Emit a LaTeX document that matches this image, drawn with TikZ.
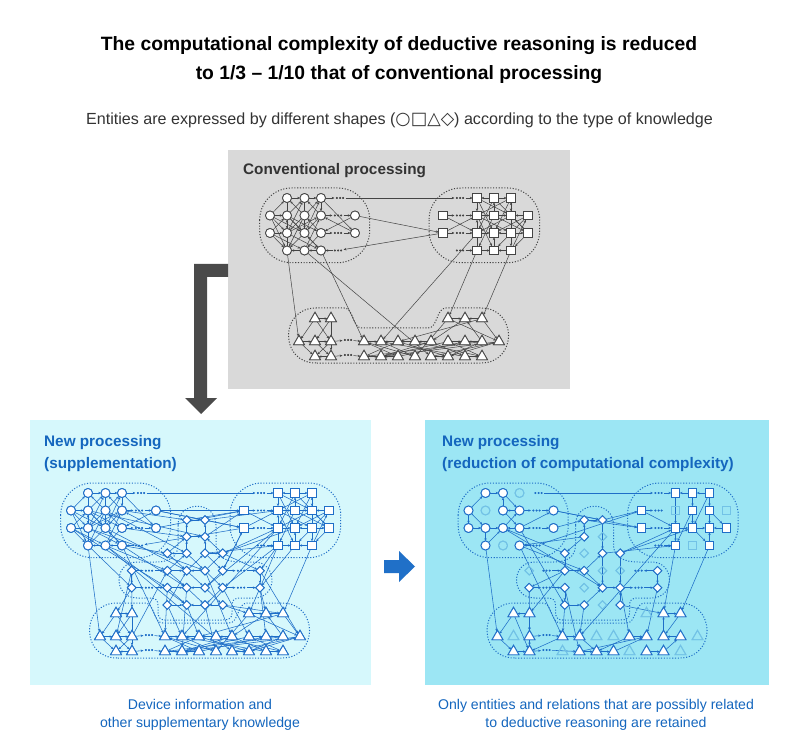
\documentclass[tikz,border=0pt]{standalone}
\usepackage{fontspec}
\setmainfont{Liberation Sans}
\newfontfamily\symfont{DejaVu Sans}
\usetikzlibrary{arrows.meta,shapes.geometric}
\definecolor{grayfill}{HTML}{D9D9D9}
\definecolor{darkarrow}{HTML}{4A4A4A}
\definecolor{lightcyan}{HTML}{D6F8FC}
\definecolor{midcyan}{HTML}{9CE6F4}
\definecolor{blueline}{HTML}{1E6EC8}
\definecolor{bluetext}{HTML}{1466BE}
\definecolor{bluearrow}{HTML}{2070C8}
\definecolor{fadec}{HTML}{72C2E6}
\definecolor{grayline}{HTML}{444444}
\definecolor{convtext}{HTML}{333333}
\colorlet{netc}{grayline}
\tikzset{
 nb/.style={inner sep=0pt, outer sep=0pt, draw=netc, fill=white, line width=0.9pt},
 cnode/.style={nb, circle, minimum size=9pt},
 snode/.style={nb, rectangle, minimum size=8.6pt},
 tnode/.style={nb, regular polygon, regular polygon sides=3, minimum size=12.6pt},
 dnode/.style={nb, diamond, minimum size=8.6pt},
 faded/.style={draw=fadec, fill=none},
 dotsn/.style={inner sep=0pt, outer sep=0.5pt, minimum width=10pt, minimum height=3pt,
   path picture={\foreach \dx in {-3.2,0,3.2}{\fill[netc] ([xshift=\dx pt]path picture bounding box.center) circle (1pt);}}},
 lnk/.style={draw=netc, line width=0.55pt, -{Stealth[length=2.8pt,width=2.4pt]}},
 grp/.style={draw=netc, line width=1pt, dash pattern=on 1.1pt off 1.7pt},
 fadeRc14/.style={faded}, fadeRc22/.style={faded}, fadeRc43/.style={faded},
 fadeRs22/.style={faded}, fadeRs25/.style={faded}, fadeRs43/.style={faded},
 fadeRd24/.style={faded}, fadeRd33/.style={faded}, fadeRd41/.style={faded}, fadeRd44/.style={faded},
 fadeRd45/.style={faded}, fadeRd53/.style={faded}, fadeRd64/.style={faded},
 fadeRtT9/.style={faded}, fadeRtM2/.style={faded}, fadeRtM6/.style={faded}, fadeRtM7/.style={faded},
 fadeRtM12/.style={faded}, fadeRtB4/.style={faded}, fadeRtB8/.style={faded}, fadeRtB11/.style={faded},
}
% ---------- nodes ----------
\newcommand\mainnodes[1]{%
 \foreach \n/\x/\y in {c12/287/198, c13/304.5/198, c14/321/198,
   c21/270/215.5, c22/287/215.5, c23/304.5/215.5, c24/321/215.5, c25/355/215.5,
   c31/270/233, c32/287/233, c33/304.5/233, c34/321/233, c35/355/233,
   c42/287/250.5, c43/304.5/250.5, c44/321/250.5}
   {\node[cnode, fade#1\n/.try] (#1\n) at (\x,\y) {};}
 \foreach \n/\x/\y in {s12/477/198, s13/494/198, s14/511/198,
   s21/443/215.5, s22/477/215.5, s23/494/215.5, s24/511/215.5, s25/528/215.5,
   s31/443/233, s32/477/233, s33/494/233, s34/511/233, s35/528/233,
   s42/477/250.5, s43/494/250.5, s44/511/250.5}
   {\node[snode, fade#1\n/.try] (#1\n) at (\x,\y) {};}
 \foreach \n/\x/\y in {tT2/315/318.6, tT3/331/318.6, tT9/448/318.6, tT10/465/318.6, tT11/482/318.6,
   tM1/299/341.6, tM2/315/341.6, tM3/331/341.6, tM4/364/341.6, tM5/381/341.6, tM6/398/341.6,
   tM7/415/341.6, tM8/431/341.6, tM9/448/341.6, tM10/465/341.6, tM11/482/341.6, tM12/499/341.6,
   tB2/315/356.6, tB3/331/356.6, tB4/364/356.6, tB5/381/356.6, tB6/398/356.6, tB7/415/356.6,
   tB8/431/356.6, tB9/448/356.6, tB10/465/356.6, tB11/482/356.6}
   {\node[tnode, fade#1\n/.try] (#1\n) at (\x,\y) {};}
 \foreach \n/\x/\y in {cd1/340/198, cd2/338/215.5, cd3/338/233, cd4/338/250.5,
   sd1/460/198, sd2/460/215.5, sd3/460/233, sd4/460/250.5, tdM/348/340, tdB/348/355}
   {\node[dotsn] (#1\n) at (\x,\y) {};}
}
\newcommand\dianodes[1]{%
 \foreach \n/\x/\y in {d13/385.7/225, d14/404/225, d23/385.7/241.7, d24/404/241.7,
   d32/366.3/258.3, d33/385.7/258.3, d34/404/258.3, d35/421.7/258.3,
   d41/330.7/275.7, d42/366.3/275.7, d43/385.7/275.7, d44/404/275.7, d45/421.7/275.7, d46/459/275.7,
   d51/330.7/292.7, d52/366.3/292.7, d53/385.7/292.7, d54/404/292.7, d55/421.7/292.7, d56/459/292.7,
   d62/366.3/310, d63/385.7/310, d64/404/310, d65/421.7/310}
   {\node[dnode, fade#1\n/.try] (#1\n) at (\x,\y) {};}
 \foreach \n/\x/\y in {dd4a/348/275.7, dd4b/440/275.7, dd5a/348/292.7, dd5b/440/292.7}
   {\node[dotsn] (#1\n) at (\x,\y) {};}
}
% ---------- outlines ----------
\newcommand\mainoutlines{%
 \draw[grp, rounded corners=32pt] (259.7,188) rectangle (369.7,262.7);
 \draw[grp, rounded corners=32pt] (429,188) rectangle (539.7,262.7);
 \draw[grp] (316,363) .. controls (279.3,363) and (279.3,308) .. (316,308) -- (344,308)
   .. controls (354,308) and (352,328) .. (362,328) -- (428,328)
   .. controls (438,328) and (436,308) .. (446,308) -- (481,308)
   .. controls (517.7,308) and (517.7,363) .. (481,363) -- cycle;
}
\newcommand\diaoutline{%
 \draw[grp] (377,230) .. controls (377,205) and (415,205) .. (415,230) -- (415,250)
   .. controls (415,262) and (425,267) .. (440,267) -- (453,267)
   .. controls (477,267) and (477,303) .. (453,303) -- (440,303)
   .. controls (432,303) and (431,306) .. (431,312) -- (431,318)
   .. controls (431,323) and (428,325) .. (422,325) -- (364,325)
   .. controls (359,325) and (357,322) .. (357,317) -- (357,311)
   .. controls (357,305) and (355,303) .. (348,303) -- (336,303)
   .. controls (312,303) and (312,267) .. (336,267) -- (355,267)
   .. controls (368,267) and (377,262) .. (377,250) -- cycle;
}
% ---------- edges ----------
\newcommand\convedges[1]{%
 \foreach \a/\b in {c12/c13, c13/c14, c14/cd1, c21/c12, c21/c22, c21/c33, c21/c42, c21/c32,
   c31/c22, c31/c32, c31/c43, c31/c42, c22/c13, c22/c34, c22/c44, c22/c33, c23/c14, c23/c32,
   c23/c42, c23/c12, c24/c33, c24/c13, c24/cd2, cd2/c25, c32/c24, c32/c44, c32/c13, c33/c42,
   c33/c14, c34/c23, c34/c43, c34/cd3, cd3/c35, c43/c42, c44/c43, cd4/c44, c12/c32, c13/c33,
   c14/c24, c42/c22, c43/c24, c25/c34, c35/c24, c14/c35, c44/c33,
   sd1/s12, s13/s12, s13/s14, s14/s24, s21/sd2, sd2/s22, s31/sd3, sd3/s32, sd4/s42, s42/s43,
   s44/s43, s22/s23, s23/s24, s25/s24, s32/s33, s34/s33, s34/s35, s12/s33, s12/s24, s13/s32,
   s13/s35, s14/s22, s14/s33, s22/s34, s22/s43, s23/s42, s23/s35, s24/s32, s24/s44, s25/s33,
   s25/s43, s35/s24, s44/s25, s21/s32, s31/s22, s12/s22, s23/s13, s34/s14, s43/s33, s42/s22, s35/s44,
   tT2/tT3, tT2/tM1, tT2/tM3, tT3/tM2, tT3/tB3, tM1/tB2, tM2/tB3, tM3/tB2, tM1/tM2, tB3/tB2,
   tM2/tM3, tM3/tdM, tB3/tdB, tdM/tM4, tdB/tB4, tM4/tM5, tM6/tM5, tM7/tM6, tM8/tM7, tM9/tM10,
   tM11/tM10, tB4/tB5, tB6/tB5, tB8/tB9, tB10/tB11, tB4/tM6, tM5/tB7, tB5/tM8, tM6/tB9,
   tB6/tM10, tM7/tB11, tB8/tM12, tT9/tT10, tT11/tT10, tT9/tM12, tT10/tM8, tT11/tM6, tM9/tB5,
   tM11/tB4, tT9/tB7, tM12/tB9, tB10/tM5, tB11/tM9, tM11/tT10, tT11/tM12, tM4/tB6, tB7/tM4,
   tM8/tB10, tB9/tM11, tM12/tB5,
   cd1/sd1, c25/s31, s31/cd4, c42/tM1, c44/tM4, c43/tB8, s32/tM5, s42/tT9, s44/tT11}
   {\draw[lnk] (#1\a) -- (#1\b);}
}
\newcommand\diaedges[1]{%
 \foreach \a/\b in {d13/d14, d23/d13, d24/d14, d23/d24, d32/d23, d33/d23, d34/d24, d35/d24,
   d33/d32, d34/d35, d41/dd4a, dd4a/d42, d51/dd5a, dd5a/d52, d45/dd4b, dd4b/d46, d55/dd5b,
   dd5b/d56, d42/d33, d43/d34, d44/d35, d42/d53, d43/d54, d44/d55, d45/d54, d52/d63, d53/d64,
   d54/d65, d55/d64, d62/d63, d64/d63, d65/d64, d42/d43, d44/d43, d52/d53, d54/d53, d32/d43,
   d34/d45, d35/d46, d41/d51, d46/d56, d33/d44, d62/d43,
   c24/d13, c25/d14, c34/d23, c44/d32, c43/d42, c33/d43, c42/d51, c32/d44, c23/d33, c44/d53,
   d13/s21, d14/s31, d24/s21, d35/s32, d34/s42, d45/s31, s42/d46, s43/d56, s33/d35, d41/tT3,
   d51/tT2, d52/tM4, d63/tM6, d64/tB7, d65/tT9, d56/tT10, d46/tM12, d55/tM9, tM3/d42, d62/tM5,
   d53/tB5, d44/tM8, s32/d54, c35/s21, c25/s21, c22/d24, c31/d52, s31/d45, s42/d55, d14/s22,
   c43/d63, d41/tM2, d56/tM10, d65/tT11}
   {\draw[lnk] (#1\a) -- (#1\b);}
}
\newcommand\redges[1]{%
 \foreach \a/\b in {c12/c13, c21/c12, c21/c31, c31/c32, c32/c33, c34/c33, c24/c23, c23/c13,
   c13/c24, c32/c42, c33/c24, c34/cd3, cd3/c35, c24/cd2, cd2/c25, cd4/c44, c34/c25, c21/c32,
   c42/c33, c23/c34,
   sd1/s12, s13/s12, s14/s13, s14/s24, s13/s23, s21/sd2, s31/sd3, sd3/s32, s32/s33, s33/s34,
   s35/s34, s24/s34, s23/s33, s32/s42, s44/s34, s12/s32, s14/s33, s23/s42, sd4/s42, s33/s44,
   s24/s35, s21/s32,
   d13/d14, d23/d13, d23/d32, d14/d34, d34/d54, d32/d42, d42/d43, d35/d55, d51/dd5a, dd5a/d52,
   d43/d54, d54/d55, d55/dd5b, dd5b/d56, d46/dd4b, d46/d56, d52/d62, d63/d54, d65/d55, d43/d34,
   d42/d51, d62/d63, dd4a/d42,
   cd1/sd1, c25/s31, s21/cd4, c42/tM1, c44/tM4, s32/tM5, s44/tT11, s42/tT10, c35/d13, d14/s21,
   d13/s31, d23/c44, d32/c33, d35/s32, d42/tT3, d51/tM3, d62/tM4, d63/tM5, d65/tT10, d56/tM9,
   d34/s42, c25/d14, c44/d43, c34/d62, c33/d54, d35/s33, d55/tM8, d52/tB5,
   tT2/tM1, tT3/tT2, tM1/tB2, tB2/tB3, tM3/tB3, tT3/tM3, tM4/tM5, tB5/tB6, tB6/tB7, tM8/tM9,
   tM10/tT10, tT10/tT11, tT11/tM10, tB9/tB10, tB10/tM11, tB5/tM9, tM8/tB6, tM5/tB6, tM4/tB3,
   tdB/tB5, tM11/tM10, tdM/tM4, tB3/tdB, tM3/tdM, tB7/tM9, tT2/tB3}
   {\draw[lnk] (#1\a) -- (#1\b);}
}
\begin{document}
\begin{tikzpicture}[x=1pt,y=-1pt]
\useasboundingbox (0,0) rectangle (798,751);
\fill[white] (0,0) rectangle (798,751);
% titles
\node[anchor=base, inner sep=0pt, font=\bfseries\fontsize{19.3}{23}\selectfont] (title1) at (399,51)
  {The computational complexity of deductive reasoning is reduced};
\node[anchor=base, inner sep=0pt, font=\bfseries\fontsize{19.3}{23}\selectfont] (title2) at (399,80)
  {to 1/3 – 1/10 that of conventional processing};
\node[anchor=base, inner sep=0pt, text=convtext, font=\fontsize{16.1}{19}\selectfont] (subtitle) at (399.5,125)
  {Entities are expressed by different shapes ({\symfont\fontsize{17.5}{19}\selectfont ○□△◇}) according to the type of knowledge};
% boxes
\fill[grayfill] (228,150) rectangle (570,389);
\fill[lightcyan] (30,420) rectangle (371,685);
\fill[midcyan] (425,420) rectangle (769,685);
% dark arrow
\fill[darkarrow] (228,264) -- (194,264) -- (194,398) -- (185,398) -- (201,414) -- (217,398)
  -- (207,398) -- (207,277) -- (228,277) -- cycle;
% blue arrow
\fill[bluearrow] (384,560) -- (399,560) -- (399,551) -- (415,566.5) -- (399,582) -- (399,573)
  -- (384,573) -- cycle;
% box titles
\node[anchor=base west, inner sep=0pt, text=convtext, font=\bfseries\fontsize{15.3}{18}\selectfont] (ctitle) at (243,175) {Conventional processing};
\node[anchor=base west, inner sep=0pt, text=bluetext, font=\bfseries\fontsize{15.3}{18}\selectfont] (ltitle1) at (44,446.5) {New processing};
\node[anchor=base west, inner sep=0pt, text=bluetext, font=\bfseries\fontsize{15.3}{18}\selectfont] (ltitle2) at (44,468) {(supplementation)};
\node[anchor=base west, inner sep=0pt, text=bluetext, font=\bfseries\fontsize{15.3}{18}\selectfont] (rtitle1) at (442,446.5) {New processing};
\node[anchor=base west, inner sep=0pt, text=bluetext, font=\bfseries\fontsize{15.3}{18}\selectfont] (rtitle2) at (442,468) {(reduction of computational complexity)};
% captions
\node[anchor=base, inner sep=0pt, text=bluetext, font=\fontsize{14.1}{17}\selectfont] (lcap1) at (200,709) {Device information and};
\node[anchor=base, inner sep=0pt, text=bluetext, font=\fontsize{14.1}{17}\selectfont] (lcap2) at (200,727) {other supplementary knowledge};
\node[anchor=base, inner sep=0pt, text=bluetext, font=\fontsize{14.1}{17}\selectfont] (rcap1) at (596,709) {Only entities and relations that are possibly related};
\node[anchor=base, inner sep=0pt, text=bluetext, font=\fontsize{14.1}{17}\selectfont] (rcap2) at (596,727) {to deductive reasoning are retained};
% conventional network
\begin{scope}
 \colorlet{netc}{grayline}
 \tikzset{lnk/.append style={line width=0.5pt}, nb/.append style={line width=0.8pt}}
 \mainoutlines
 \mainnodes{G}
 \convedges{G}
 \mainnodes{G}
\end{scope}
% left network
\begin{scope}[shift={(-199,295)}]
 \colorlet{netc}{blueline}
 \mainoutlines
 \diaoutline
 \mainnodes{L}
 \dianodes{L}
 \convedges{L}
 \diaedges{L}
 \mainnodes{L}
 \dianodes{L}
\end{scope}
% right network
\begin{scope}[shift={(198.5,295)}]
 \colorlet{netc}{blueline}
 \mainoutlines
 \diaoutline
 \mainnodes{R}
 \dianodes{R}
 \redges{R}
 \mainnodes{R}
 \dianodes{R}
\end{scope}
\end{tikzpicture}
\end{document}
